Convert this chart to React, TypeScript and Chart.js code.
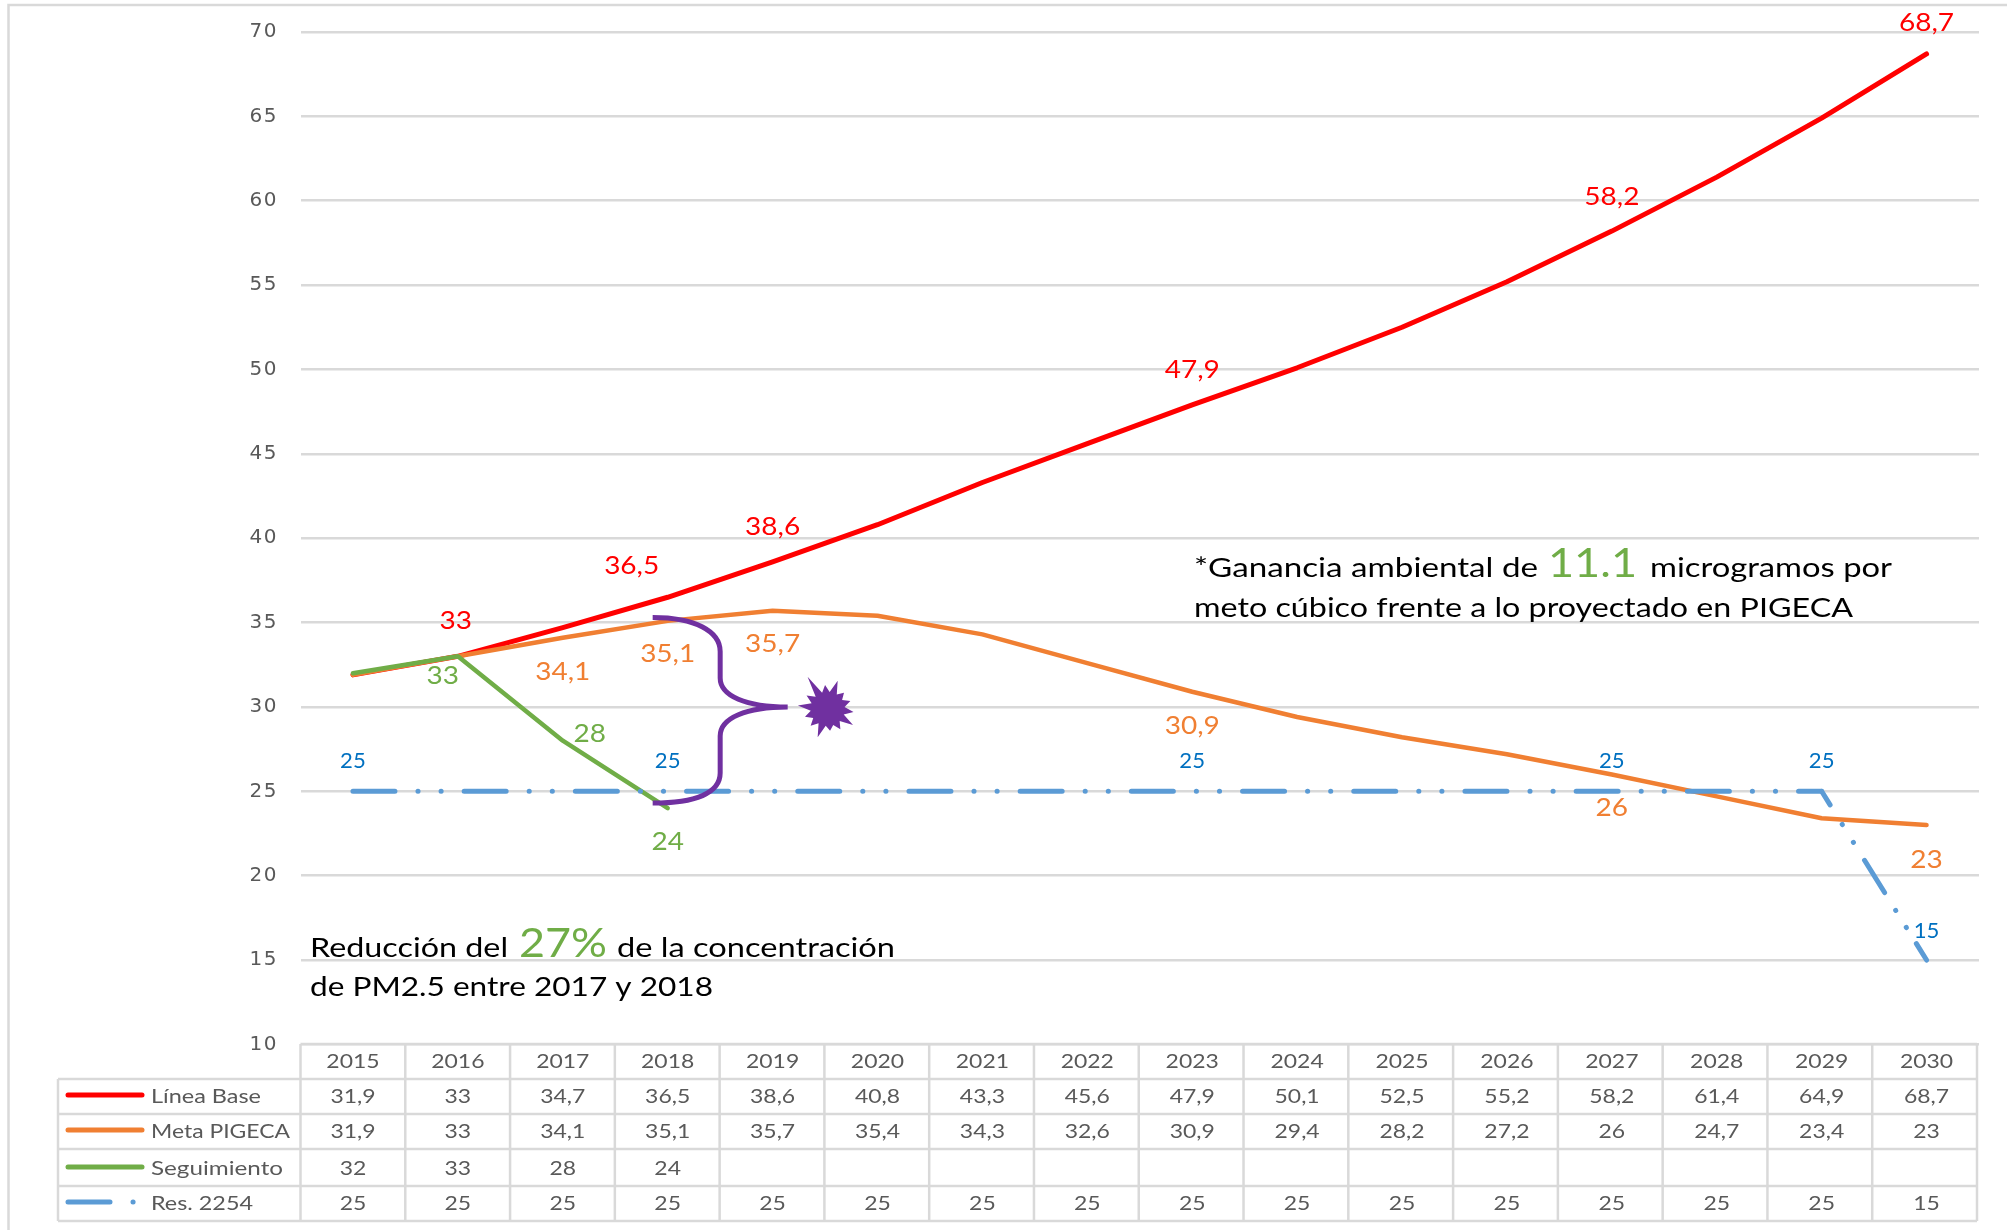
import React, { useEffect, useRef } from "react";
import { Chart, registerables } from "chart.js";

Chart.register(...registerables);

const years = ["2015","2016","2017","2018","2019","2020","2021","2022","2023","2024","2025","2026","2027","2028","2029","2030"];
const lineaBase = [31.9,33,34.7,36.5,38.6,40.8,43.3,45.6,47.9,50.1,52.5,55.2,58.2,61.4,64.9,68.7];
const metaPigeca = [31.9,33,34.1,35.1,35.7,35.4,34.3,32.6,30.9,29.4,28.2,27.2,26,24.7,23.4,23];
const seguimiento: (number | null)[] = [32,33,28,24,null,null,null,null,null,null,null,null,null,null,null,null];
const res2254 = [25,25,25,25,25,25,25,25,25,25,25,25,25,25,25,15];

const RED = "#FF0000", ORANGE = "#F07F32", GREEN = "#70AD47", BLUE = "#5B9BD5", LABEL_BLUE = "#0070C0";
const PURPLE = "#7030A0", GRID = "#D9D9D9", TEXT = "#595959";
const SANS = "Lato";

const DASH = [42, 23, 0.1, 23, 0.1, 23];
const DASH_DESCENT = [16, 23, 0.1, 21, 0.1, 21, 38, 21, 0.1, 20, 0.1, 19, 30];

const tableSeries = [
  { name: "Línea Base", values: lineaBase, color: RED, nameW: 110 },
  { name: "Meta PIGECA", values: metaPigeca, color: ORANGE, nameW: 139 },
  { name: "Seguimiento", values: seguimiento, color: GREEN, nameW: 132 },
  { name: "Res. 2254", values: res2254, color: BLUE, nameW: 102 },
];

// value labels: category index, offset from the point
const redLabels = [[1,-2,-36],[3,-36,-32],[4,0,-36],[8,0,-36],[12,0,-35],[15,0,-32]];
const orangeLabels = [[2,0,33],[3,0,32],[4,0,32],[8,0,33],[12,0,33],[15,0,34]];
const greenLabels = [[1,-15,19],[2,27,-8],[3,0,33]];
const blueLabels = [[0,0,-31],[3,0,-31],[8,0,-31],[12,0,-31],[14,0,-31],[15,0,-29]];

const fmt = (v: number) => String(v).replace(".", ",");

function stretched(ctx: any, text: string, cx: number, base: number, sx: number, font: string, color: string) {
  ctx.save();
  ctx.letterSpacing = "0px";
  ctx.font = font;
  ctx.fillStyle = color;
  ctx.textAlign = "center";
  ctx.textBaseline = "alphabetic";
  ctx.translate(cx, base);
  ctx.scale(sx, 1);
  ctx.fillText(text, 0, 0);
  ctx.restore();
}

function fit(ctx: any, text: string, x: number, base: number, w: number, font: string, color: string) {
  ctx.save();
  ctx.letterSpacing = "0px";
  ctx.font = font;
  ctx.fillStyle = color;
  ctx.textAlign = "left";
  ctx.textBaseline = "alphabetic";
  const m = ctx.measureText(text).width;
  ctx.translate(x, base);
  ctx.scale(w / m, 1);
  ctx.fillText(text, 0, 0);
  ctx.restore();
}

const framePlugin = {
  id: "frame",
  beforeDraw(chart: any) {
    const ctx: any = chart.ctx;
    ctx.letterSpacing = "1.5px";
    ctx.save();
    ctx.strokeStyle = GRID;
    ctx.lineWidth = 2.5;
    ctx.beginPath();
    ctx.moveTo(8.5, 1230);
    ctx.lineTo(8.5, 5);
    ctx.lineTo(2007, 5);
    ctx.stroke();
    ctx.restore();
  },
};

const tablePlugin = {
  id: "table",
  afterDraw(chart: any) {
    const ctx: any = chart.ctx;
    const x = chart.scales.x;
    const left = chart.chartArea.left, right = chart.chartArea.right - 2;
    const colW = (right - left) / years.length;
    const rows = [1044, 1079, 1114, 1149, 1186, 1221];
    const outer = 58;
    ctx.save();
    ctx.strokeStyle = GRID;
    ctx.lineWidth = 2.5;
    ctx.beginPath();
    rows.forEach((r, i) => {
      ctx.moveTo(i === 0 ? left : outer, r);
      ctx.lineTo(right, r);
    });
    for (let i = 0; i <= years.length; i++) {
      ctx.moveTo(left + i * colW, rows[0]);
      ctx.lineTo(left + i * colW, rows[5]);
    }
    ctx.moveTo(outer, rows[1]);
    ctx.lineTo(outer, rows[5]);
    ctx.stroke();
    ctx.restore();

    const font = `18.5px ${SANS}`;
    years.forEach((y, i) => stretched(ctx, y, x.getPixelForValue(i), 1068, 1.24, font, TEXT));
    const bases = [1103, 1138, 1175, 1210];
    const keys = [1095, 1130, 1167, 1202];
    tableSeries.forEach((s, r) => {
      s.values.forEach((v, i) => {
        if (v !== null) stretched(ctx, fmt(v as number), x.getPixelForValue(i), bases[r], 1.24, font, TEXT);
      });
      fit(ctx, s.name, 151, bases[r], s.nameW, font, TEXT);
      ctx.save();
      ctx.strokeStyle = s.color;
      ctx.lineWidth = 5;
      ctx.lineCap = "round";
      ctx.beginPath();
      if (r === 3) {
        ctx.moveTo(68, keys[r]);
        ctx.lineTo(110, keys[r]);
        ctx.moveTo(133, keys[r]);
        ctx.lineTo(133.1, keys[r]);
      } else {
        ctx.moveTo(68, keys[r]);
        ctx.lineTo(142, keys[r]);
      }
      ctx.stroke();
      ctx.restore();
    });
  },
};

const annotationPlugin = {
  id: "notes",
  afterDatasetsDraw(chart: any) {
    const ctx: any = chart.ctx;
    const xs = chart.scales.x, ys = chart.scales.y;
    const label = (vals: any[], list: number[][], color: string, size: number, sx: number) => {
      list.forEach(([i, dx, dy]) => {
        const v = vals[i] as number;
        const cy = ys.getPixelForValue(v) + dy;
        stretched(ctx, fmt(v), xs.getPixelForValue(i) + dx, cy + size * 0.36, sx, `${size}px ${SANS}`, color);
      });
    };
    label(lineaBase, redLabels, RED, 25, 1.12);
    label(metaPigeca, orangeLabels, ORANGE, 25, 1.12);
    label(seguimiento, greenLabels, GREEN, 25, 1.12);
    label(res2254, blueLabels, LABEL_BLUE, 20.5, 1.08);

    // brace spanning the 2018 gap between target and measured value
    const xL = xs.getPixelForValue(3) - 15;
    const xM = xL + 67.5;
    const xT = xL + 135;
    const top = ys.getPixelForValue(35.3);
    const mid = ys.getPixelForValue(30);
    const bot = ys.getPixelForValue(24.3);
    ctx.save();
    ctx.strokeStyle = PURPLE;
    ctx.lineWidth = 5;
    ctx.beginPath();
    ctx.moveTo(xL, top);
    ctx.bezierCurveTo(xL + 43, top, xM, top + 14, xM, top + 34);
    ctx.lineTo(xM, mid - 29);
    ctx.bezierCurveTo(xM, mid - 11, xM + 26, mid, xT, mid);
    ctx.moveTo(xT, mid);
    ctx.bezierCurveTo(xM + 26, mid, xM, mid + 11, xM, mid + 29);
    ctx.lineTo(xM, bot - 30);
    ctx.bezierCurveTo(xM, bot - 10, xL + 43, bot, xL, bot);
    ctx.stroke();

    // burst
    const cx = xT + 40, cy = mid + 2;
    const radii = [30, 23, 24, 26, 30, 24, 22, 30, 24, 24, 30, 25, 38, 24];
    ctx.fillStyle = PURPLE;
    ctx.beginPath();
    const n = radii.length;
    radii.forEach((r, k) => {
      const a = -Math.PI / 2 + 0.34 + (k * 2 * Math.PI) / n;
      const b = a + Math.PI / n;
      const ox = cx + r * Math.cos(a), oy = cy + r * Math.sin(a);
      const ix = cx + 17 * Math.cos(b), iy = cy + 17 * Math.sin(b);
      if (k === 0) ctx.moveTo(ox, oy); else ctx.lineTo(ox, oy);
      ctx.lineTo(ix, iy);
    });
    ctx.closePath();
    ctx.fill();
    ctx.restore();

    // notes
    const body = `26.5px ${SANS}`;
    fit(ctx, "*Ganancia ambiental de", 1194, 577, 344, body, "#000");
    fit(ctx, "11.1", 1548, 577, 89, `40px ${SANS}`, GREEN);
    fit(ctx, "microgramos por", 1650, 577, 242, body, "#000");
    fit(ctx, "meto cúbico frente a lo proyectado en PIGECA", 1194, 617, 659, body, "#000");
    fit(ctx, "Reducción del", 310, 957, 198, body, "#000");
    fit(ctx, "27%", 519, 957, 88, `40px ${SANS}`, GREEN);
    fit(ctx, "de la concentración", 617, 957, 278, body, "#000");
    fit(ctx, "de PM2.5 entre 2017 y 2018", 310, 996, 403, body, "#000");
  },
};

export default function App() {
  const ref = useRef<HTMLCanvasElement>(null);
  useEffect(() => {
    const common = { pointRadius: 0, tension: 0, borderCapStyle: "round", borderJoinStyle: "round", fill: false, clip: false };
    const chart = new Chart(ref.current as HTMLCanvasElement, {
      type: "line",
      data: {
        labels: years,
        datasets: [
          { label: "Línea Base", data: lineaBase, borderColor: RED, borderWidth: 5, order: 4, ...common },
          { label: "Meta PIGECA", data: metaPigeca, borderColor: ORANGE, borderWidth: 4.5, order: 3, ...common },
          { label: "Seguimiento", data: seguimiento, borderColor: GREEN, borderWidth: 4.5, order: 2, ...common },
          {
            label: "Res. 2254", data: res2254, borderColor: BLUE, borderWidth: 5, borderDash: DASH, order: 1, ...common,
            segment: { borderDash: (c: any) => (c.p0DataIndex === 14 ? DASH_DESCENT : undefined) },
          },
        ],
      } as any,
      options: {
        responsive: false,
        animation: false,
        layout: { padding: { top: 32, bottom: 185.6, right: 28, left: 0 } },
        plugins: { legend: { display: false }, tooltip: { enabled: false } },
        scales: {
          x: { type: "category", offset: true, display: false, grid: { display: false } },
          y: {
            min: 10,
            max: 70,
            afterFit: (s: any) => { s.width = 300.5; s.paddingTop = 0; s.paddingBottom = 0; },
            ticks: { stepSize: 5, color: TEXT, padding: 22.5, font: { family: "DejaVu Sans", size: 20 } },
            grid: { color: GRID, lineWidth: 2.5, tickLength: 0, drawTicks: false },
            border: { display: false },
          },
        },
      } as any,
      plugins: [framePlugin, annotationPlugin, tablePlugin],
    });
    return () => chart.destroy();
  }, []);
  return (
    <canvas
      ref={ref}
      width={2007}
      height={1230}
      style={{ position: "absolute", left: 0, top: 0, display: "block", width: 2007, height: 1230 }}
    />
  );
}
